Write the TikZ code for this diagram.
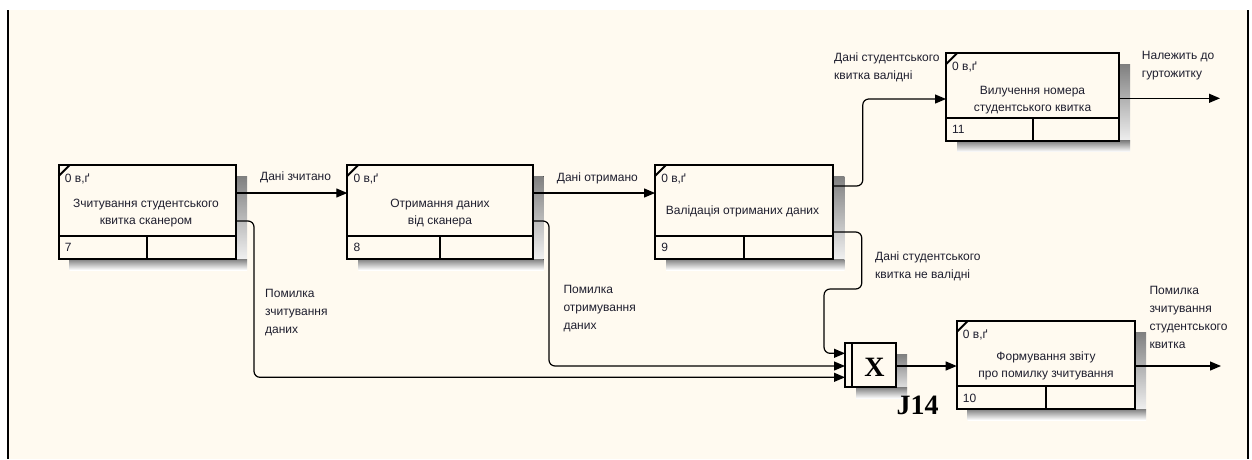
\documentclass[tikz,border=0pt]{standalone}
\usepackage{fontspec}
\setmainfont{Liberation Sans}
\newfontfamily\jfont{Liberation Serif}
\usetikzlibrary{calc,arrows.meta}

\definecolor{paper}{HTML}{FFFAF0}
\definecolor{ink}{HTML}{1E1E2E}
\definecolor{shade}{HTML}{ABAAA5}

\pgfdeclarelayer{bg}
\pgfdeclarelayer{sh}
\pgfsetlayers{bg,sh,main}

\tikzset{
  box/.style={draw=black, line width=2pt, rectangle, inner sep=0pt, outer sep=0pt},
  rule/.style={line width=2pt},
  flow/.style={line width=1.2pt, rounded corners=6pt},
  tip/.style={-{Triangle[length=11pt,width=9pt]}},
  txt/.style={font=\fontsize{12}{18}\selectfont, text=ink, inner sep=0pt, align=left},
  boxtxt/.style={font=\fontsize{12}{17}\selectfont, text=ink, inner sep=0pt, align=center},
}

% an activity box: name, centre x, centre y, width, height
\newcommand\idefbox[5]{%
  \node[box, minimum width=#4pt, minimum height=#5pt] (#1) at (#2,#3) {};
  \begin{pgfonlayer}{sh}
    \fill[shade] ($(#1.north east)+(0,11)$) rectangle ($(#1.south east)+(11,11)$);
    \fill[shade] ($(#1.south west)+(11,0)$) rectangle ($(#1.south east)+(11,11)$);
  \end{pgfonlayer}
  \draw[rule] ($(#1.south west)+(0,-23)$) -- ($(#1.south east)+(0,-23)$);
  \draw[rule] ($(#1.south)+(0,-23)$) -- (#1.south);
  \draw[rule] ($(#1.north west)+(0,11)$) -- ($(#1.north west)+(11,0)$);
  \node[txt, anchor=west] (#1c) at ($(#1.north west)+(6,14)$) {0 в,ґ};
}

\begin{document}
\begin{tikzpicture}[x=1pt,y=-1pt]
\useasboundingbox (0,0) rectangle (1252,459);
\begin{pgfonlayer}{bg}
  \fill[white] (0,0) rectangle (1252,459);
  \fill[paper] (8,10) rectangle (1248,459);
\end{pgfonlayer}
\draw[line width=1.6pt] (8,10) -- (8,459) (1248,10) -- (1248,459);

% activity boxes
\idefbox{b7}{147.35}{212}{177.3}{94}
\idefbox{b8}{440}{212}{185.4}{94}
\idefbox{b9}{744.2}{212}{178.3}{94}
\idefbox{b11}{1032.5}{97}{173}{87.4}
\idefbox{b10}{1045.85}{365}{178.3}{88}

% box numbers
\node[txt, anchor=west] (n7) at ($(b7.south west)+(6,-11.5)$) {7};
\node[txt, anchor=west] (n8) at ($(b8.south west)+(6,-11.5)$) {8};
\node[txt, anchor=west] (n9) at ($(b9.south west)+(6,-11.5)$) {9};
\node[txt, anchor=west] (n11) at ($(b11.south west)+(6,-11)$) {11};
\node[txt, anchor=west] (n10) at ($(b10.south west)+(6,-11)$) {10};

% box titles
\node[boxtxt, anchor=north] (t7) at (146,199) {Зчитування студентського\\квитка сканером};
\node[boxtxt, anchor=north] (t8) at (440,199) {Отримання даних\\від сканера};
\node[boxtxt] (t9) at (742.5,211.5) {Валідація отриманих даних};
\node[boxtxt, anchor=north] (t11) at (1032.5,85.7) {Вилучення номера\\студентського квитка};
\node[boxtxt, anchor=north] (t10) at (1046,351.7) {Формування звіту\\про помилку зчитування};

% junction
\node[box, minimum width=51pt, minimum height=44pt] (j14) at (870.5,365.3) {};
\begin{pgfonlayer}{sh}
  \fill[shade] ($(j14.north east)+(0,11)$) rectangle ($(j14.south east)+(11,11)$);
  \fill[shade] ($(j14.south west)+(11,0)$) rectangle ($(j14.south east)+(11,11)$);
\end{pgfonlayer}
\draw[rule] ($(j14.north west)+(6.7,0)$) -- ($(j14.south west)+(6.7,0)$);
\node[font=\jfont\bfseries\fontsize{28}{28}\selectfont, inner sep=0pt, anchor=base] (jx) at (874.5,376) {X};
\node[font=\jfont\bfseries\fontsize{28}{28}\selectfont, inner sep=0pt, anchor=base west] (jl) at (896.5,414.5) {J14};

% arrows
\draw[flow,tip] ($(b7.north east)+(0,28)$) -- ($(b8.north west)+(0,28)$);
\draw[flow,tip] ($(b8.north east)+(0,28)$) -- ($(b9.north west)+(0,28)$);
\draw[flow,tip] ($(b9.north east)+(0,21)$) -- ++(29.4,0) |- ($(b11.north west)+(0,45.7)$);
\draw[flow,tip] ($(b9.north east)+(0,67)$) -- ++(28.4,0) -- ++(0,57) -- ++(-37.7,0) |- ($(j14.north west)+(0,10)$);
\draw[flow,tip] ($(b7.north east)+(0,56)$) -- ++(18,0) |- ($(j14.north west)+(0,34)$);
\draw[flow,tip] ($(b8.north east)+(0,56)$) -- ++(16.3,0) |- ($(j14.north west)+(0,22.7)$);
\coordinate (jout) at ($(j14.north east)+(0,22.7)$);
\draw[flow,tip] (jout) -- (b10.west |- jout);
\coordinate (o10) at (1221,366);
\draw[flow,tip] (b10.east |- o10) -- (o10);
\coordinate (o11) at (1220,98.3);
\draw[flow,tip] (b11.east |- o11) -- (o11);

% arrow labels
\node[txt, anchor=west] (l1) at (260,177.3) {Дані зчитано};
\node[txt, anchor=west] (l2) at (556.7,178.3) {Дані отримано};
\node[txt, anchor=north west] (l3) at (265,289) {Помилка\\зчитування\\даних};
\node[txt, anchor=north west] (l4) at (563.3,284.7) {Помилка\\отримування\\даних};
\node[txt, anchor=north west] (l5) at (875,251.4) {Дані студентського\\квитка не валідні};
\node[txt, anchor=north west] (l6) at (834,52.4) {Дані студентського\\квитка валідні};
\node[txt, anchor=north west] (l7) at (1141.7,50.7) {Належить до\\гуртожитку};
\node[txt, anchor=north west] (l8) at (1149.3,285.7) {Помилка\\зчитування\\студентського\\квитка};
\end{tikzpicture}
\end{document}
